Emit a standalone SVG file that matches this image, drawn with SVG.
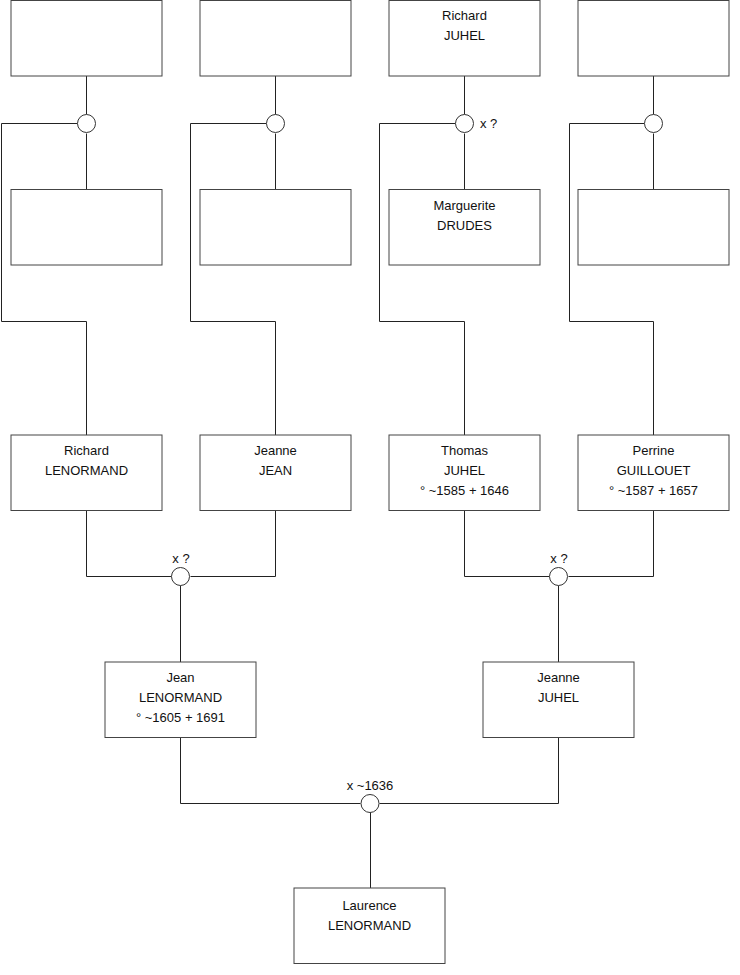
<svg xmlns="http://www.w3.org/2000/svg" width="740" height="975" viewBox="0 0 740 975">
<style>
.box{fill:#fff;stroke:#444;stroke-width:1}
.c{fill:#fff;stroke:#333;stroke-width:1}
.l{fill:none;stroke:#222;stroke-width:1}
text{font-family:"Liberation Sans",Arial,sans-serif;font-size:13px;fill:#111;text-anchor:middle}
.lab{text-anchor:start}
</style>
<rect width="740" height="975" fill="#fff"/>
<g id="connectors">
<path class="l" d="M86.5 76V114.5M86.5 133.5V189.5M77.5 123.5H1.5V321.5H86.5V435"/>
<path class="l" d="M275.5 76V114.5M275.5 133.5V189.5M266.5 123.5H190.5V321.5H275.5V435"/>
<path class="l" d="M464.5 76V114.5M464.5 133.5V189.5M455.5 123.5H379.5V321.5H464.5V435"/>
<path class="l" d="M653.5 76V114.5M653.5 133.5V189.5M644.5 123.5H569.5V321.5H653.5V435"/>
<path class="l" d="M86.5 510V576.5H171.5M275.5 510V576.5H190.5M180.5 585.5V662"/>
<path class="l" d="M464.5 510V576.5H549.5M653.5 510V576.5H568.5M558.5 585.5V662"/>
<path class="l" d="M180.5 737V803.5H360.5M558.5 737V803.5H379.5M370.5 812.5V888"/>
</g>
<g id="unions">
<circle class="c" cx="86.5" cy="123.5" r="9"/>
<circle class="c" cx="275.5" cy="123.5" r="9"/>
<circle class="c" cx="464.5" cy="123.5" r="9"/>
<text class="lab" x="480" y="128">x ?</text>
<circle class="c" cx="653.5" cy="123.5" r="9"/>
<circle class="c" cx="180.5" cy="576.5" r="9"/>
<text x="181" y="563">x ?</text>
<circle class="c" cx="558.5" cy="576.5" r="9"/>
<text x="559" y="563">x ?</text>
<circle class="c" cx="370" cy="803.5" r="9"/>
<text x="370" y="790">x ~1636</text>
</g>
<g id="p1"><rect class="box" x="11" y="0.5" width="151" height="75.5"/></g>
<g id="p2"><rect class="box" x="200" y="0.5" width="151" height="75.5"/></g>
<g id="p3"><rect class="box" x="389" y="0.5" width="151" height="75.5"/><text x="464.5" y="20">Richard</text><text x="464.5" y="40">JUHEL</text></g>
<g id="p4"><rect class="box" x="578" y="0.5" width="151" height="75.5"/></g>
<g id="p5"><rect class="box" x="11" y="189.5" width="151" height="75.5"/></g>
<g id="p6"><rect class="box" x="200" y="189.5" width="151" height="75.5"/></g>
<g id="p7"><rect class="box" x="389" y="189.5" width="151" height="75.5"/><text x="464.5" y="210">Marguerite</text><text x="464.5" y="230">DRUDES</text></g>
<g id="p8"><rect class="box" x="578" y="189.5" width="151" height="75.5"/></g>
<g id="p9"><rect class="box" x="11" y="435" width="151" height="75.5"/><text x="86.5" y="455">Richard</text><text x="86.5" y="475">LENORMAND</text></g>
<g id="p10"><rect class="box" x="200" y="435" width="151" height="75.5"/><text x="275.5" y="455">Jeanne</text><text x="275.5" y="475">JEAN</text></g>
<g id="p11"><rect class="box" x="389" y="435" width="151" height="75.5"/><text x="464.5" y="455">Thomas</text><text x="464.5" y="475">JUHEL</text><text x="464.5" y="495">° ~1585 + 1646</text></g>
<g id="p12"><rect class="box" x="578" y="435" width="151" height="75.5"/><text x="653.5" y="455">Perrine</text><text x="653.5" y="475">GUILLOUET</text><text x="653.5" y="495">° ~1587 + 1657</text></g>
<g id="p13"><rect class="box" x="105" y="662" width="151" height="75.5"/><text x="180.5" y="682">Jean</text><text x="180.5" y="702">LENORMAND</text><text x="180.5" y="722">° ~1605 + 1691</text></g>
<g id="p14"><rect class="box" x="483" y="662" width="151" height="75.5"/><text x="558.5" y="682">Jeanne</text><text x="558.5" y="702">JUHEL</text></g>
<g id="p15"><rect class="box" x="294" y="888" width="151" height="75.5"/><text x="369.5" y="910">Laurence</text><text x="369.5" y="930">LENORMAND</text></g>
</svg>
